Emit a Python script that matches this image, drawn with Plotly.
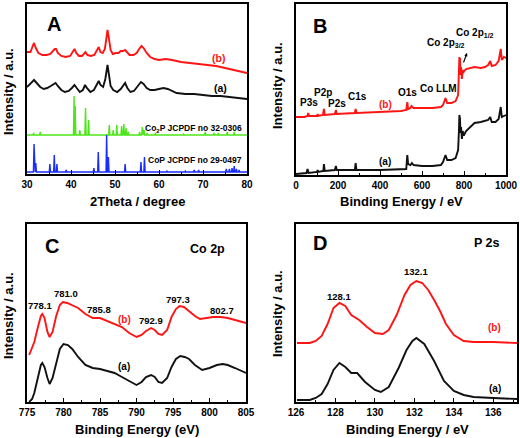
import plotly.graph_objects as go

W, H = 520, 438
FONT = "Liberation Sans"

# ---------------- Panel A : XRD ----------------
xrd_b_x = [30.0, 30.8, 31.3, 31.6, 32.0, 32.6, 33.5, 34.5, 35.3, 35.8, 36.3, 36.6, 37.0, 37.8, 38.8, 39.8,
           40.4, 40.8, 41.2, 41.8, 42.5, 43.0, 43.3, 43.7, 44.5, 45.3, 45.9, 46.3, 46.7, 47.2, 47.7, 48.1,
           48.3, 48.6, 49.0, 49.5, 50.2, 50.8, 51.3, 51.8, 52.3, 52.7, 53.3, 54.2, 54.9, 55.5, 56.0, 56.5,
           57.2, 58.0, 59.0, 60.0, 61.5, 63.0, 65.0, 67.0, 69.0, 71.0, 73.0, 75.0, 77.0, 79.0, 80.0]
xrd_b_y = [122, 122, 128, 131, 126, 121, 119, 119, 120, 122, 125, 125, 121, 118, 117, 118,
           122, 125, 121, 118, 118, 121, 122, 119, 118, 119, 123, 127, 122, 121, 125, 138,
           144, 136, 124, 120, 121, 121, 123, 123, 124, 122, 119, 119, 121, 125, 128, 126,
           121, 117, 115, 114, 115, 114, 112, 111, 110, 109, 108, 106, 104, 102, 101]

xrd_a_x = [30.0, 30.6, 31.2, 31.6, 32.2, 33.0, 33.8, 34.6, 35.4, 36.0, 36.5, 37.0, 37.8, 38.6, 39.5, 40.2,
           40.8, 41.3, 42.0, 42.7, 43.2, 43.6, 44.4, 45.2, 45.9, 46.3, 46.7, 47.3, 47.8, 48.1, 48.3, 48.6,
           49.0, 49.6, 50.5, 51.3, 51.9, 52.3, 52.8, 53.5, 54.3, 55.2, 55.9, 56.5, 57.2, 58.0, 59.0, 60.0,
           61.0, 62.0, 63.0, 64.0, 66.0, 68.0, 70.0, 72.0, 74.0, 76.0, 78.0, 80.0]
xrd_a_y = [87, 90, 93, 94, 91, 87, 85, 86, 88, 90, 91, 88, 84, 82, 83, 86,
           89, 86, 82, 84, 89, 86, 82, 84, 90, 93, 89, 87, 95, 105, 109, 100,
           88, 84, 82, 85, 89, 91, 86, 82, 83, 88, 92, 90, 86, 84, 84, 85,
           86, 85, 83, 81, 80, 80, 79, 78, 78, 77, 76, 75]

co2p_pos = [31.5, 33.0, 40.7, 40.95, 42.0, 43.3, 44.0, 48.7, 49.6, 50.4, 51.5, 52.0, 52.5, 53.0,
            55.6, 56.2, 56.6, 57.3, 59.2, 65.6, 70.5, 72.5, 73.5, 75.5, 77.1]
co2p_int = [2, 3, 39, 29, 5, 27, 15, 10, 5, 10, 9, 11, 7, 3,
            3, 8, 5, 2, 2, 1, 3, 2, 2, 3, 3]
co2p_offset = 39

cop_pos = [31.6, 32.0, 35.2, 36.2, 36.8, 38.9, 45.2, 46.2, 48.1, 48.5, 52.3, 55.9, 56.7,
           61.8, 66.0, 68.0, 69.0, 75.3, 76.0, 76.6, 77.1, 77.6, 78.2]
cop_int = [28, 9, 8, 17, 8, 2, 4, 20, 37, 15, 8, 10, 15,
           1, 1, 2, 2, 3, 3, 4, 6, 3, 2]
cop_offset = 2

# ---------------- Panel B : XPS survey ----------------
sv_b_x = [0, 40, 55, 58, 62, 100, 103, 106, 128, 133, 137, 185, 190, 194, 280, 284, 288, 400, 500, 525,
          530, 534, 545, 550, 560, 600, 650, 690, 700, 712, 720, 740, 760, 772, 776, 778, 779, 781, 783,
          786, 790, 794, 797, 800, 810, 830, 850, 880, 900, 915, 925, 932, 950, 965, 975, 980, 990, 1000]
sv_b_y = [58, 58, 59, 62, 59, 59, 61, 59, 60, 66, 60, 61, 65, 61, 62, 66, 62, 63, 64, 65,
          73, 66, 67, 69, 67, 67, 67, 68, 70, 77, 72, 72, 74, 80, 100, 118, 105, 117, 100,
          108, 96, 105, 102, 104, 106, 107, 108, 107, 108, 110, 114, 109, 110, 114, 126, 115, 118, 117]

sv_a_x = [0, 50, 55, 60, 100, 103, 106, 130, 133, 137, 185, 190, 194, 280, 284, 288, 400, 500, 525,
          530, 534, 545, 552, 560, 600, 650, 690, 700, 712, 720, 740, 760, 772, 776, 778, 779, 781, 783,
          786, 790, 794, 797, 800, 810, 830, 850, 880, 900, 915, 925, 932, 950, 965, 975, 980, 990, 1000]
sv_a_y = [1, 2, 6, 2, 3, 5, 3, 4, 11, 4, 5, 9, 5, 5, 12, 5, 5, 6, 6,
          20, 11, 10, 12, 10, 9, 9, 10, 13, 20, 15, 15, 17, 25, 45, 60, 48, 56, 42,
          48, 36, 44, 40, 40, 44, 48, 52, 53, 54, 55, 58, 53, 53, 56, 68, 58, 59, 60]

# ---------------- Panel C : Co 2p ----------------
co_b_x = [775.3, 775.6, 776.0, 776.5, 776.9, 777.1, 777.4, 777.8, 778.1, 778.5, 779.0, 779.5, 779.9, 780.5,
          781.2, 782.0, 783.0, 784.0, 785.0, 786.0, 787.0, 788.0, 789.0, 790.0, 790.7, 791.3, 792.0, 792.5,
          793.0, 793.5, 794.2, 794.8, 795.4, 795.9, 796.5, 797.2, 798.0, 798.7, 799.5, 800.5, 801.5, 802.5,
          803.5, 804.3, 805.0]
co_b_y = [47, 52, 60, 75, 86, 88, 84, 70, 65, 70, 86, 97, 100, 99,
          97, 94, 88, 84, 84, 81, 78, 75, 69, 65, 67, 71, 74, 72,
          68, 67, 72, 85, 93, 96, 95, 91, 86, 83, 84, 85, 85, 84,
          82, 80, 79]

co_a_x = [775.3, 775.7, 776.0, 776.5, 776.9, 777.1, 777.4, 777.8, 778.1, 778.5, 779.0, 779.5, 780.0, 780.6,
          781.2, 782.0, 783.0, 784.0, 785.0, 786.0, 787.0, 788.0, 789.0, 790.0, 790.7, 791.3, 792.0, 792.5,
          793.0, 793.5, 794.2, 794.8, 795.4, 796.0, 796.6, 797.2, 798.0, 799.0, 800.0, 801.0, 801.8, 802.5,
          803.5, 804.3, 805.0]
co_a_y = [0, 3, 9, 25, 37, 39, 35, 24, 18, 24, 40, 53, 58, 57,
          53, 45, 37, 34, 33, 31, 29, 25, 21, 17, 20, 25, 27, 25,
          20, 19, 24, 35, 43, 46, 45, 43, 37, 32, 34, 37, 38, 37,
          34, 31, 29]

# ---------------- Panel D : P 2s ----------------
p_b_x = [126.05, 126.7, 127.0, 127.3, 127.6, 127.9, 128.2, 128.5, 128.8, 129.2, 129.6, 130.0, 130.4, 130.7,
         131.1, 131.5, 131.8, 132.1, 132.4, 132.7, 133.0, 133.3, 133.6, 134.0, 134.5, 135.0, 136.0, 137.2]
p_b_y = [59, 59, 61, 66, 78, 94, 99, 96, 87, 82, 75, 69, 68, 72,
         87, 107, 117, 121, 119, 112, 102, 91, 78, 67, 61, 60, 60, 59]

p_a_x = [126.05, 126.7, 127.0, 127.3, 127.6, 127.9, 128.2, 128.5, 128.8, 129.1, 129.5, 130.0, 130.3, 130.7,
         131.2, 131.6, 131.9, 132.1, 132.5, 133.0, 133.5, 134.0, 134.5, 135.0, 136.0, 137.2]
p_a_y = [2, 2, 4, 8, 18, 32, 39, 35, 29, 29, 20, 12, 10, 15,
         34, 52, 61, 64, 58, 41, 21, 11, 7, 5, 4, 3]

x_titles = ["2Theta / degree", "Binding Energy / eV", "Binding Energy (eV)", "Binding Energy / eV"]
y_title = "Intensity / a.u."


def sticks(pos, inten, base, lo, hi, w=0.14):
    xs, ys = [lo], [base]
    for p, h in sorted(zip(pos, inten)):
        xs += [p - w, p, p + w]
        ys += [base, base + h, base]
    xs.append(hi)
    ys.append(base)
    return xs, ys


RED, BLACK, GREEN, BLUE = "#ff1414", "#111111", "#4de619", "#1a2cff"

fig = go.Figure()


def line(x, y, color, ax, width=1.9):
    fig.add_trace(go.Scatter(x=x, y=y, mode="lines", line=dict(color=color, width=width),
                             xaxis=ax[0], yaxis=ax[1], showlegend=False, hoverinfo="skip"))


line(xrd_b_x, xrd_b_y, RED, ("x", "y"))
line(xrd_a_x, xrd_a_y, BLACK, ("x", "y"))
sx, sy = sticks(co2p_pos, co2p_int, co2p_offset, 30, 80)
line(sx, sy, GREEN, ("x", "y"), 1.4)
sx, sy = sticks(cop_pos, cop_int, cop_offset, 30, 80)
line(sx, sy, BLUE, ("x", "y"), 1.4)

line(sv_b_x, sv_b_y, RED, ("x2", "y2"))
line(sv_a_x, sv_a_y, BLACK, ("x2", "y2"))

line(co_b_x, co_b_y, RED, ("x3", "y3"))
line(co_a_x, co_a_y, BLACK, ("x3", "y3"))

line(p_b_x, p_b_y, RED, ("x4", "y4"))
line(p_a_x, p_a_y, BLACK, ("x4", "y4"))


def dom_x(a, b):
    return [a / W, b / W]


def dom_y(top, bottom):
    return [1 - bottom / H, 1 - top / H]


tickfont = dict(family=FONT, size=10, color="black", weight="bold")


def xax(dom, rng, dtick, minor, t0, anchor):
    return dict(domain=dom, range=rng, dtick=dtick, tick0=t0,
                showline=True, linecolor="black", linewidth=1.5, mirror=True,
                ticks="inside", ticklen=4, tickwidth=1.2, tickcolor="black",
                minor=dict(ticks="inside", ticklen=2.5, tickwidth=1, tickcolor="black", dtick=minor),
                showgrid=False, zeroline=False, tickfont=tickfont, automargin=False, anchor=anchor)


def yax(dom, rng, anchor):
    return dict(domain=dom, range=rng, showline=True, linecolor="black", linewidth=1.5, mirror=True,
                ticks="", showticklabels=False, showgrid=False, zeroline=False, automargin=False,
                anchor=anchor)


layout = dict(
    width=W, height=H, margin=dict(l=0, r=0, t=0, b=0, autoexpand=False),
    paper_bgcolor="white", plot_bgcolor="white", showlegend=False,
    font=dict(family=FONT, color="black"),
    xaxis=xax(dom_x(27, 247), [30, 80], 10, 5, 30, "y"),
    yaxis=yax(dom_y(4, 174), [0, 170], "x"),
    xaxis2=xax(dom_x(296, 506), [0, 1000], 200, 100, 0, "y2"),
    yaxis2=yax(dom_y(4, 175), [0, 171], "x2"),
    xaxis3=xax(dom_x(27, 246), [775, 805], 5, 2.5, 775, "y3"),
    yaxis3=yax(dom_y(224, 402), [0, 178], "x3"),
    xaxis4=xax(dom_x(296, 517), [126, 137.2], 2, 1, 126, "y4"),
    yaxis4=yax(dom_y(224, 402), [0, 178], "x4"),
)
fig.update_layout(**layout)

ann = []


def txt(x, y, s, size=10, color="black", angle=0):
    ann.append(dict(x=x / W, y=1 - y / H, xref="paper", yref="paper", text=s, showarrow=False,
                    xanchor="center", yanchor="middle", textangle=angle,
                    font=dict(family=FONT, size=size, color=color, weight="bold")))


# axis titles
txt(137, 202, x_titles[0], 13)
txt(401, 201, x_titles[1], 13)
txt(137, 429, x_titles[2], 13)
txt(407, 429, x_titles[3], 13)
txt(8, 92, y_title, 13, angle=-90)
txt(277, 86, y_title, 13, angle=-90)
txt(8, 316, y_title, 13, angle=-90)
txt(277, 314, y_title, 13, angle=-90)

# Panel A
txt(54, 24, "A", 20)
txt(218, 58, "(b)", 10.5, RED)
txt(220, 88, "(a)", 10.5)
txt(193, 128, "Co<sub>2</sub>P JCPDF no 32-0306", 8.5)
txt(195, 160, "CoP JCPDF no 29-0497", 8.5)
# Panel B
txt(320, 26, "B", 20)
txt(309, 102, "P3s", 10)
txt(323, 93, "P2p", 10)
txt(337, 103, "P2s", 10)
txt(357, 96, "C1s", 10)
txt(385, 105, "(b)", 10, RED)
txt(407, 92, "O1s", 10)
txt(438, 88, "Co LLM", 10)
txt(446, 43, "Co 2p<sub>3/2</sub>", 10)
txt(475, 33, "Co 2p<sub>1/2</sub>", 10)
txt(385, 161, "(a)", 10)
ann.append(dict(x=467 / W, y=1 - 53 / H, xref="paper", yref="paper", ax=-4, ay=11, text="",
                showarrow=True, arrowhead=2, arrowsize=0.6, arrowwidth=1.1, arrowcolor="black"))
# Panel C
txt(52, 246, "C", 20)
txt(207, 249, "Co 2p", 12.5)
txt(40, 305, "778.1", 9.5)
txt(66, 293, "781.0", 9.5)
txt(99, 309, "785.8", 9.5)
txt(124, 319, "(b)", 10, RED)
txt(151, 320, "792.9", 9.5)
txt(178, 299, "797.3", 9.5)
txt(222, 310, "802.7", 9.5)
txt(124, 366, "(a)", 10)
# Panel D
txt(320, 243, "D", 20)
txt(487, 243, "P 2s", 12.5)
txt(339, 296, "128.1", 9.5)
txt(416, 271, "132.1", 9.5)
txt(494, 327, "(b)", 10, RED)
txt(495, 388, "(a)", 10)

fig.update_layout(annotations=ann)
fig.write_html("out.html", config={"displayModeBar": False},
               post_script="document.body.style.margin='0';document.body.style.padding='0';")
